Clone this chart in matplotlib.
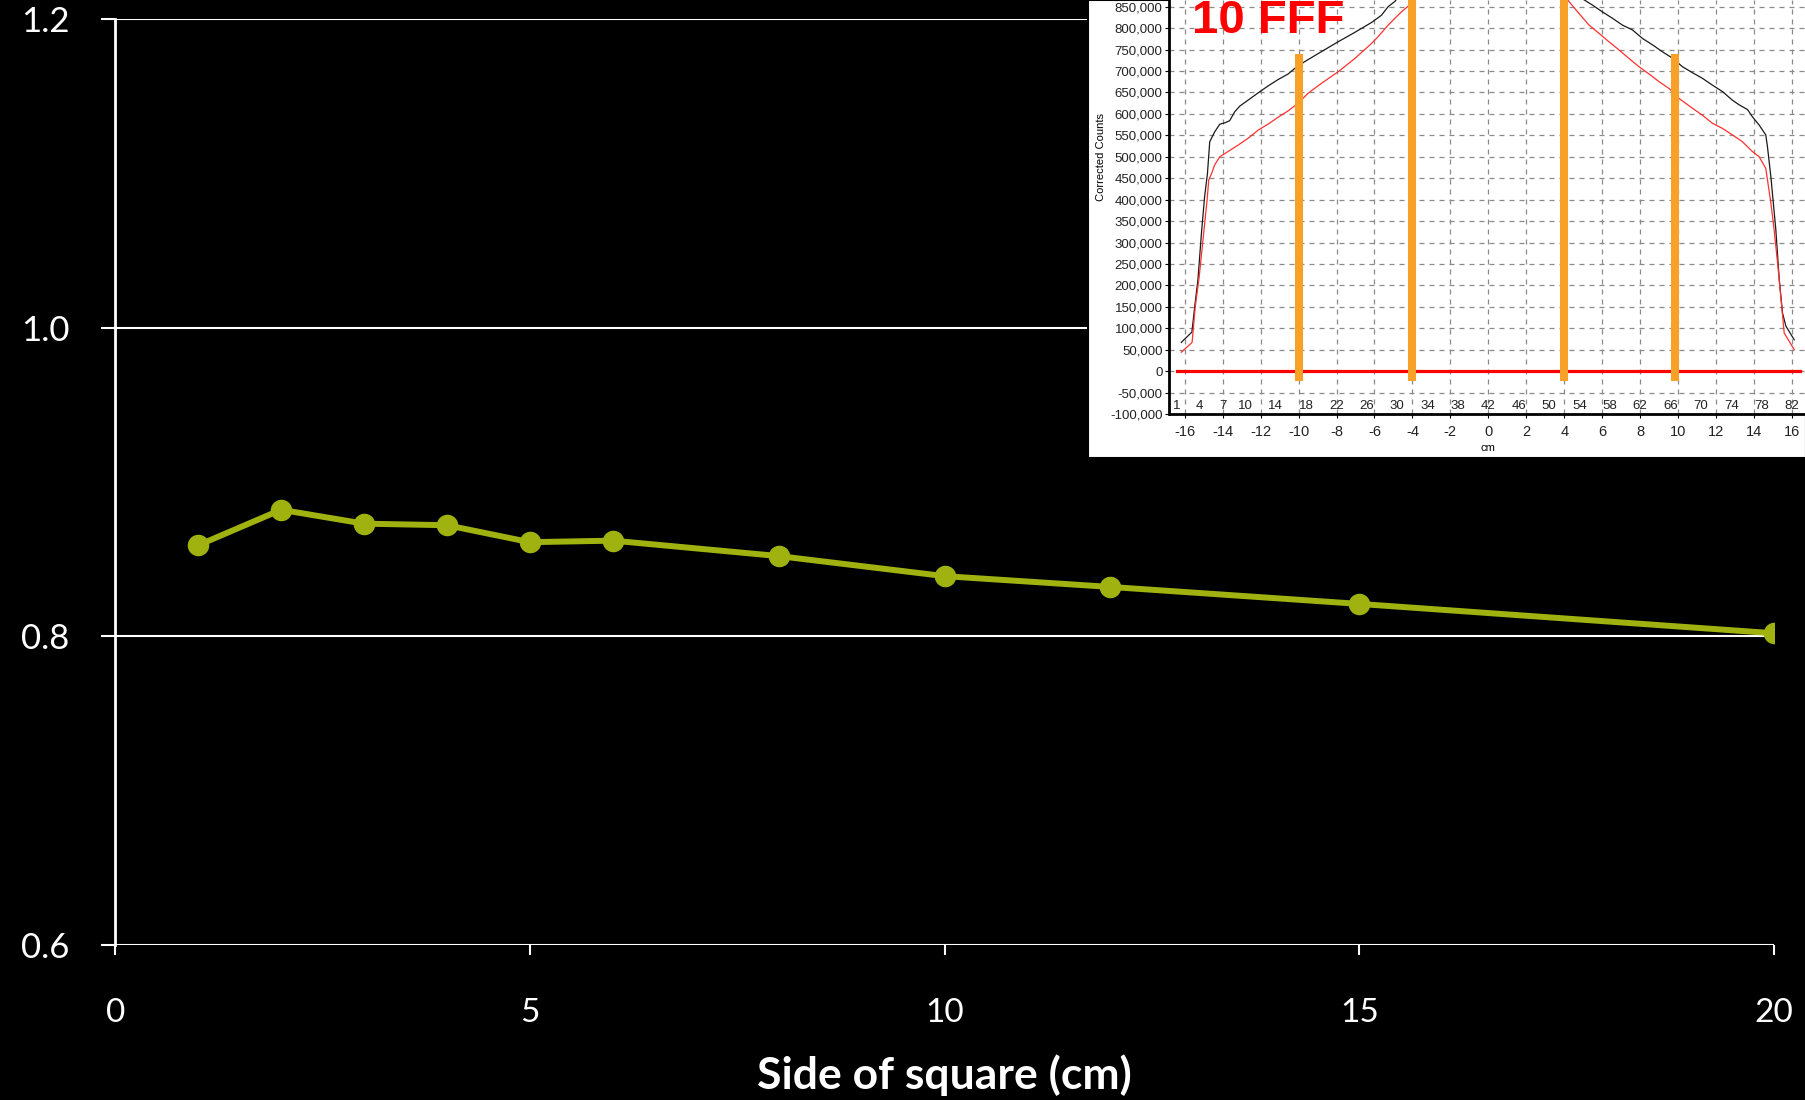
import matplotlib.pyplot as plt
from matplotlib.patches import Rectangle

plt.rcParams['axes.unicode_minus'] = False

# main chart: ratio vs side of square field
side = [1, 2, 3, 4, 5, 6, 8, 10, 12, 15, 20]
ratio = [0.859, 0.882, 0.873, 0.872, 0.861, 0.862, 0.852, 0.839, 0.832, 0.821, 0.802]

# inset: 10 FFF profiles (cm, corrected counts), split where they leave the top of the crop
black_left_x = [-16.18, -15.62, -15.47, -15.30, -15.12, -14.95, -14.80, -14.68, -14.42, -14.15,
                -13.89, -13.63, -13.36, -13.10, -12.66, -12.13, -11.61, -11.08, -10.55, -10.20,
                -9.67, -8.80, -7.92, -7.04, -6.16, -5.63, -5.28, -4.93, -4.75]
black_left_y = [67000, 91000, 151000, 214000, 320000, 407000, 461000, 535000, 558000, 576000,
                579000, 584000, 605000, 618000, 632000, 649000, 665000, 680000, 693000, 706000,
                722000, 745000, 768000, 790000, 813000, 830000, 850000, 862000, 872000]
black_right_x = [4.90, 5.48, 6.01, 6.54, 7.07, 7.59, 8.12, 8.65, 9.17, 9.70, 10.23, 10.76, 11.28,
                 11.81, 12.34, 12.86, 13.22, 13.66, 13.92, 14.27, 14.62, 14.71, 14.89, 15.15,
                 15.33, 15.50, 15.68, 16.12]
black_right_y = [870000, 854000, 838000, 823000, 807000, 796000, 776000, 761000, 745000, 730000,
                 710000, 696000, 683000, 667000, 652000, 632000, 621000, 610000, 593000, 574000,
                 551000, 523000, 453000, 330000, 214000, 136000, 105000, 73000]
red_left_x = [-16.18, -15.61, -15.44, -15.24, -14.98, -14.82, -14.73, -14.59, -14.42, -14.15,
              -13.72, -13.19, -12.66, -12.13, -11.61, -11.08, -10.55, -10.02, -9.50, -8.80,
              -7.92, -7.04, -6.16, -5.81, -5.28, -4.58, -4.14, -3.90]
red_left_y = [44000, 67000, 151000, 218000, 330000, 399000, 446000, 460000, 481000, 500000,
              512000, 527000, 543000, 562000, 576000, 592000, 607000, 625000, 648000, 671000,
              698000, 729000, 764000, 780000, 807000, 838000, 854000, 870000]
red_right_x = [4.10, 4.78, 5.31, 5.83, 6.36, 6.89, 7.42, 7.94, 8.47, 9.00, 9.53, 10.05, 10.76,
               11.28, 11.81, 12.34, 12.86, 13.39, 13.92, 14.27, 14.62, 14.71, 14.89, 15.06,
               15.24, 15.41, 15.59, 16.12]
red_right_y = [870000, 834000, 807000, 788000, 768000, 749000, 729000, 710000, 693000, 675000,
               659000, 636000, 613000, 597000, 578000, 566000, 551000, 535000, 512000, 500000,
               473000, 446000, 392000, 330000, 253000, 175000, 89000, 50000]

# orange markers: (position cm, top counts)
bar_pos = [-10, -4, 4, 9.85]
bar_top = [740000, 900000, 900000, 740000]
bar_bottom = -24000

# detector index labels along the inset axis
index_labels = [1, 4, 7, 10, 14, 18, 22, 26, 30, 34, 38, 42, 46, 50, 54, 58, 62, 66, 70, 74, 78, 82]

green = '#9fb20f'

fig = plt.figure(figsize=(18.06, 11.0), dpi=100, facecolor='black')

# ---- main chart ----
ax = fig.add_axes([115.2 / 1806, 1 - 945 / 1100, (1774 - 115.2) / 1806, (945 - 19) / 1100])
ax.set_facecolor('black')
ax.plot(side, ratio, color=green, lw=4.3, marker='o', ms=14.5, zorder=3)
ax.set_xlim(0, 20)
ax.set_ylim(0.6, 1.2)
ax.set_xticks([0, 5, 10, 15, 20])
ax.set_yticks([0.6, 0.8, 1.0, 1.2])
ax.set_yticklabels(['0.6', '0.8', '1.0', '1.2'])
ax.grid(axis='y', color='white', lw=1.5)
for s in ['top', 'right', 'bottom']:
    ax.spines[s].set_visible(False)
ax.spines['left'].set_color('white')
ax.spines['left'].set_linewidth(2)
ax.tick_params(axis='y', length=10, width=1.5, color='white', pad=23,
               labelsize=25, labelcolor='white')
ax.tick_params(axis='x', length=7, width=1.5, color='white', pad=31,
               labelsize=24, labelcolor='white')
for lab in ax.get_xticklabels() + ax.get_yticklabels():
    lab.set_family('Lato')
ax.set_xlabel('Side of square (cm)', color='white', fontsize=32, family='Lato',
              fontweight='bold', labelpad=19)

# ---- inset image ----
fig.patches.append(Rectangle((1088 / 1806, 1 - 458 / 1100), (1806 - 1088) / 1806, 458 / 1100,
                             transform=fig.transFigure, facecolor='white', edgecolor='black',
                             lw=1.5, zorder=2))

ins = fig.add_axes([1169.5 / 1806, 1 - 414 / 1100, (1806 - 1169.5) / 1806, 414 / 1100], zorder=3)
ins.set_facecolor('white')
ins.set_xlim(-16.8, 16.74)
ins.set_ylim(-100000, 865600)
ins.set_xticks(range(-16, 17, 2))
ins.set_yticks(range(-100000, 850001, 50000))
ins.set_yticklabels([f'{v:,}' for v in range(-100000, 850001, 50000)])
ins.grid(True, color='#8a8a8a', lw=0.9, linestyle=(0, (4, 4)))
ins.spines['top'].set_visible(False)
ins.spines['right'].set_visible(False)
ins.spines['left'].set_linewidth(2)
ins.spines['bottom'].set_linewidth(2)
ins.tick_params(axis='y', length=3, pad=2, labelsize=9.5, labelcolor='#222222')
ins.tick_params(axis='x', length=3, pad=5, labelsize=10.5, labelcolor='#222222')
for lab in ins.get_xticklabels() + ins.get_yticklabels():
    lab.set_family('Liberation Sans')
ins.set_xlabel('cm', fontsize=8, family='Liberation Sans', labelpad=3)
ins.set_ylabel('Corrected Counts', fontsize=8, family='Liberation Sans', labelpad=3)
ins.yaxis.label.set_y(0.62)

for i in index_labels:
    ins.text((i - 42) * 0.4, -82000, str(i), ha='center', va='center', fontsize=9.5,
             family='Liberation Sans', color='#222222')

ins.plot([-16.4, 16.4], [0, 0], color='#ff0000', lw=2.3, zorder=3)
ins.plot(black_left_x, black_left_y, color='#1a1a1a', lw=0.9, zorder=4)
ins.plot(black_right_x, black_right_y, color='#1a1a1a', lw=0.9, zorder=4)
ins.plot(red_left_x, red_left_y, color='#ff3030', lw=0.9, zorder=4)
ins.plot(red_right_x, red_right_y, color='#ff3030', lw=0.9, zorder=4)
for p, t in zip(bar_pos, bar_top):
    ins.plot([p, p], [bar_bottom, t], color='#f8a128', lw=5.8, solid_capstyle='butt', zorder=5)

ins.text(-15.6, 789000, '10 FFF', ha='left', va='baseline', fontsize=34, fontweight='bold',
         family='Liberation Sans', color='#ff0000', zorder=6)

fig.savefig('out.png', dpi=100, facecolor='black')
